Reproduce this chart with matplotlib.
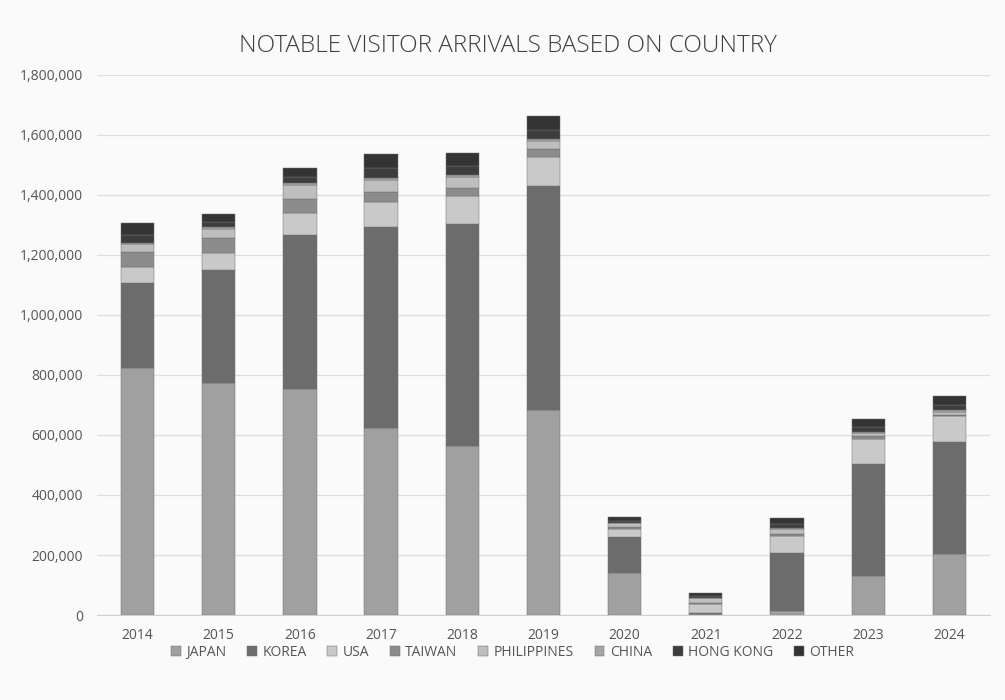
import matplotlib.pyplot as plt
import numpy as np
from matplotlib.ticker import FuncFormatter

plt.rcParams['font.family'] = ['Open Sans', 'DejaVu Sans']

years = ['2014', '2015', '2016', '2017', '2018', '2019', '2020', '2021', '2022', '2023', '2024']
countries = ['JAPAN', 'KOREA', 'USA', 'TAIWAN', 'PHILIPPINES', 'CHINA', 'HONG KONG', 'OTHER']

japan       = [823000, 774000, 752000, 622000, 563000, 683000, 139000,  2000,  15000, 130000, 203000]
korea       = [284000, 376000, 514000, 672000, 739000, 748000, 122000,  6000, 191000, 372000, 372000]
usa         = [ 53000,  57000,  74000,  81000,  95000,  94000,  27000, 30000,  58000,  83000,  88000]
taiwan      = [ 50000,  51000,  45000,  35000,  25000,  27000,   4000,  3000,   6000,  11000,   4000]
philippines = [ 25000,  30000,  48000,  41000,  39000,  29000,  14000, 15000,  17000,  11000,  10000]
china       = [  6000,   5000,   6000,   7000,   6000,   7000,   2000,  1000,   3000,   4000,   5000]
hong_kong   = [ 26000,  17000,  20000,  32000,  30000,  30000,   6000,  5000,  12000,  16000,  19000]
other       = [ 39000,  26000,  30000,  48000,  44000,  44000,  11000, 12000,  20000,  25000,  29000]

series = [japan, korea, usa, taiwan, philippines, china, hong_kong, other]
# grey scale tones, one per country
shades = ['#a0a0a0', '#6c6c6c', '#c9c9c9', '#8c8c8c', '#bebebe', '#a6a6a6', '#3d3d3d', '#343434']

fig = plt.figure(figsize=(10.05, 7.0), dpi=100)
fig.patch.set_facecolor('#fafafa')
ax = fig.add_axes([0.0965, 0.1214, 0.8885, 0.7716])
ax.set_facecolor('#fafafa')

x = np.arange(len(years))
bottom = np.zeros(len(years))
for name, vals, c in zip(countries, series, shades):
    vals = np.array(vals, dtype=float)
    ax.bar(x, vals, width=0.41, bottom=bottom, color=c, label=name,
           edgecolor='#707070', linewidth=0.35)
    bottom += vals

ax.set_xlim(-0.5, len(years) - 0.5)
ax.set_ylim(0, 1800000)
ax.set_yticks(np.arange(0, 1800001, 200000))
ax.yaxis.set_major_formatter(FuncFormatter(lambda v, p: f'{int(v):,}'))
ax.set_xticks(x)
ax.set_xticklabels(years)

ax.grid(axis='y', color='#dedede', linewidth=0.9)
ax.set_axisbelow(True)
for s in ['top', 'right', 'left']:
    ax.spines[s].set_visible(False)
ax.spines['bottom'].set_color('#cfcfcf')
ax.tick_params(axis='both', length=0, colors='#555555', labelsize=10)
ax.tick_params(axis='x', pad=9)
ax.tick_params(axis='y', pad=10)

fig.text(0.505, 0.934, 'NOTABLE VISITOR ARRIVALS BASED ON COUNTRY',
         ha='center', va='center', fontsize=17.5, fontweight='light', color='#3f3f3f')

fig.legend(loc='center', bbox_to_anchor=(0.51, 0.068), ncol=8, frameon=False,
           fontsize=10, handlelength=0.7, handleheight=0.7, handletextpad=0.4,
           columnspacing=1.5, labelcolor='#555555')

fig.savefig('out.png', dpi=100, facecolor=fig.get_facecolor())
